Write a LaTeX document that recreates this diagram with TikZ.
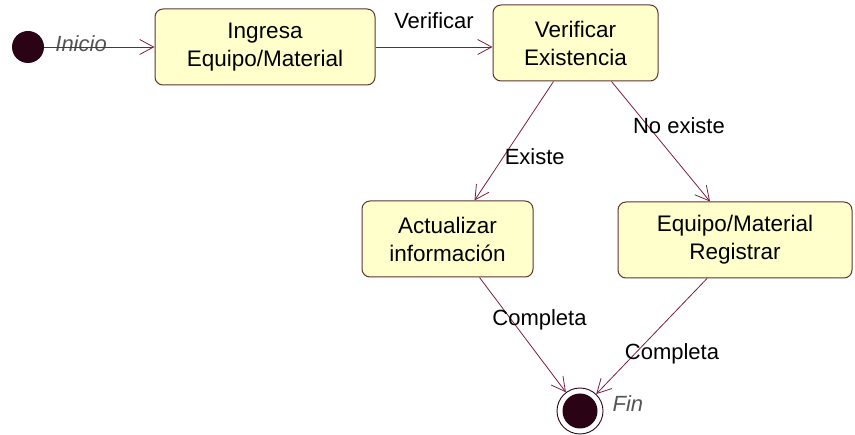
\documentclass[tikz,border=0pt]{standalone}
\usepackage{fontspec}
\setmainfont{Liberation Sans}
\usepackage{tikz}
\usetikzlibrary{calc,arrows.meta,positioning}
\definecolor{fondo}{HTML}{FFFFCC}
\definecolor{borde}{HTML}{5E3434}
\definecolor{linea}{HTML}{7A1E44}
\definecolor{punto}{HTML}{2A0414}
\definecolor{gris}{HTML}{555555}

\begin{document}
\begin{tikzpicture}[x=1pt,y=-1pt,
  estado/.style={draw=borde,line width=1pt,fill=fondo,rounded corners=8pt,align=center,
    minimum height=76pt,inner sep=0pt,font=\fontsize{22.5}{28}\selectfont},
  trans/.style={draw=linea,line width=0.8pt,-{Straight Barb[length=14pt,width=15pt]}},
  etiq/.style={font=\fontsize{22}{26}\selectfont,inner sep=0pt},
  nota/.style={font=\fontsize{22}{26}\selectfont\itshape,text=gris,inner sep=0pt}]
  \useasboundingbox (0,0) rectangle (855,435);

  \node[circle,fill=punto,minimum size=32pt,inner sep=0pt] (ini) at (28,47) {};
  \node[estado,minimum width=220pt] (ingresa) at (265,47) {Ingresa\\Equipo/Material};
  \node[estado,minimum width=165pt] (verificar) at (575.5,43) {Verificar\\Existencia};
  \node[estado,minimum width=171pt] (actualizar) at (447.5,239) {Actualizar\\información};
  \node[estado,minimum width=234pt] (registrar) at (735,240) {Equipo/Material\\Registrar};
  \node[circle,draw=punto,line width=0.9pt,minimum size=46pt,inner sep=0pt] (fin) at (580,411) {};
  \fill[punto] (fin.center) circle (17.5pt);

  \node[nota,right=11pt of ini,yshift=3pt] (inicio) {Inicio};
  \node[nota,right=9pt of fin,yshift=7pt] (finlbl) {Fin};

  \draw[trans] (ini) -- (ini -| ingresa.west);
  \draw[trans] (ingresa.east) -- (ingresa.east -| verificar.west)
    node[etiq,midway,above=18pt] {Verificar};
  \draw[trans] ([xshift=-22pt]verificar.south) -- ([xshift=27pt]actualizar.north)
    node[etiq,pos=0.63,xshift=31pt] {Existe};
  \draw[trans] ([xshift=36pt]verificar.south) -- ([xshift=-25pt]registrar.north)
    node[etiq,pos=0.37,xshift=31pt] {No existe};
  \draw[trans] ([xshift=32pt]actualizar.south) -- (fin)
    node[etiq,pos=0.37,xshift=28pt] {Completa};
  \draw[trans] ([xshift=-28pt]registrar.south) -- (fin)
    node[etiq,pos=0.65,xshift=37pt] {Completa};
\end{tikzpicture}
\end{document}
